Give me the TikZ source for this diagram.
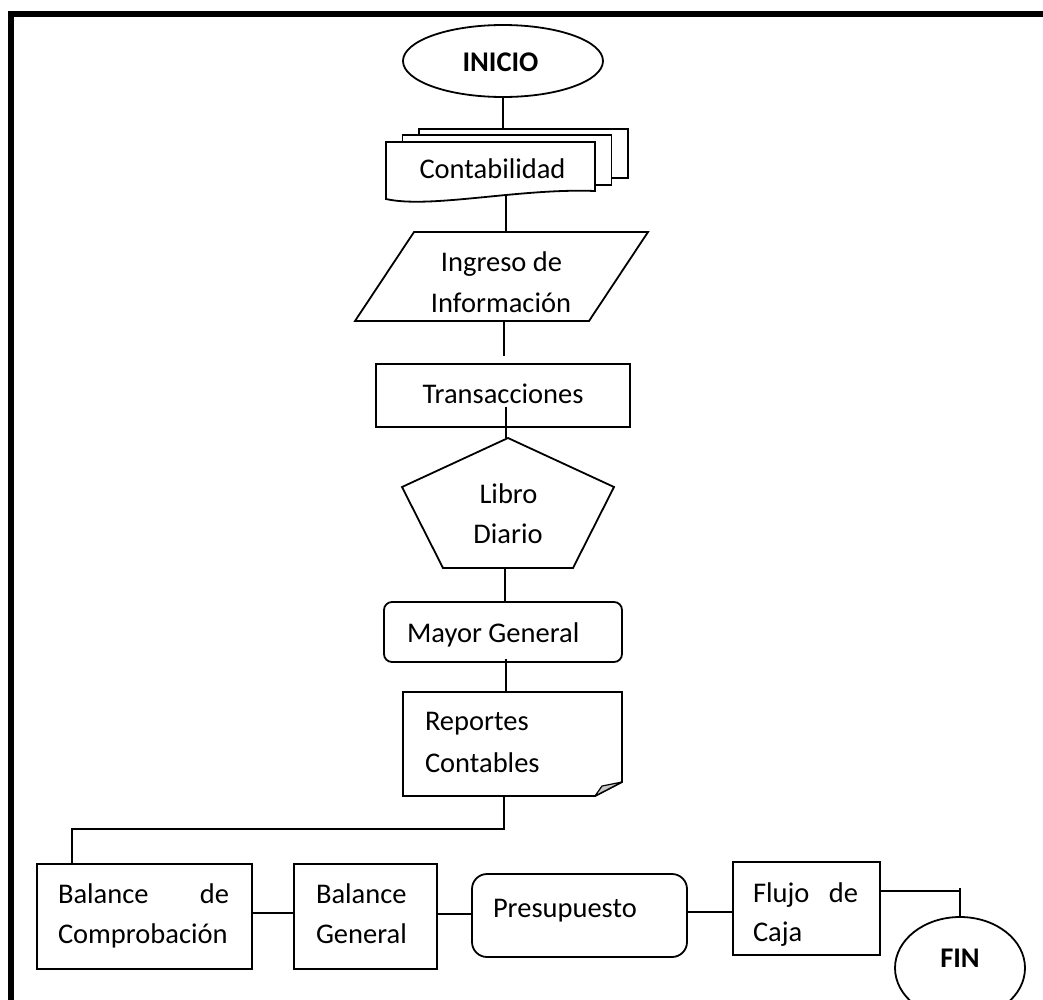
\documentclass[tikz,border=0pt]{standalone}
\usepackage{fontspec}
\setmainfont{Carlito}
\usetikzlibrary{shapes.geometric,calc}
\begin{document}
\begin{tikzpicture}[x=1pt,y=-1pt,
  ln/.style={line width=1.8pt},
  sh/.style={draw, line width=1.8pt, inner sep=0pt, outer sep=0pt},
  ghost/.style={draw=none, inner sep=0pt, outer sep=0pt},
  tx/.style={inner sep=0pt, outer sep=0pt, font=\fontsize{28.5}{40}\selectfont},
  btx/.style={tx, font=\fontsize{28.5}{40}\selectfont\bfseries}]
\useasboundingbox (0,0) rectangle (1043,999);
% frame
\draw[line width=5.5pt] (10.75,1010) -- (10.75,13.75) -- (1050,13.75);

% INICIO
\node[sh, ellipse, minimum width=200, minimum height=72] (inicio) at (503,61) {};
\node[btx, anchor=base] (tinicio) at (500.5,71) {INICIO};

% Contabilidad (multi-document)
\node[ghost, minimum width=209, minimum height=56] (conta) at (490.5,170) {};
\node[ghost, minimum width=209, minimum height=50] (contamid) at (507,160) {};
\node[ghost, minimum width=209, minimum height=49] (contaback) at (523.5,153.5) {};
\draw[ln] (conta.north west) -- (conta.north east) -- ($(conta.north east)+(0,49)$)
  .. controls +(-75,-3) and +(44,10) .. ($(conta.south west)+(0,1)$) -- cycle;
\draw[ln, line join=miter] ($(contamid.north west)+(0,7)$) -- (contamid.north west) -- (contamid.north east)
  -- (contamid.south east) -- ($(contamid.south east)+(-16,0)$);
\draw[ln, line join=miter] ($(contaback.north west)+(0,6)$) -- (contaback.north west) -- (contaback.north east)
  -- (contaback.south east) -- ($(contaback.south east)+(-17,0)$);
\node[tx, anchor=base] (tconta) at (492.5,178) {Contabilidad};
\draw[ln] (inicio.south) -- (inicio.south |- contaback.north);

% Ingreso de Informacion (parallelogram)
\node[ghost, minimum width=293, minimum height=89] (ingreso) at (501.5,276.5) {};
\draw[ln, line join=miter] ($(ingreso.north west)+(59,0)$) -- (ingreso.north east)
  -- ($(ingreso.south east)+(-59,0)$) -- (ingreso.south west) -- cycle;
\node[tx, anchor=base] (tingreso1) at (501.5,271) {Ingreso de};
\node[tx, anchor=base] (tingreso2) at (501,312) {Información};
\draw[ln] ($(conta.south)+(15.5,-2)$) -- ($(ingreso.north)+(4.5,0)$);

% Transacciones
\node[sh, minimum width=254, minimum height=63] (trans) at (503,395.5) {};
\node[tx, anchor=base] (ttrans) at (503,403) {Transacciones};
\draw[ln] ($(ingreso.south)+(2.5,0)$) -- ++(0,35);

% Libro Diario (pentagon)
\node[ghost, minimum width=212, minimum height=130] (libro) at (508,503) {};
\draw[ln, line join=miter] (libro.north) -- ($(libro.north east)+(0,49)$)
  -- ($(libro.south east)+(-41,0)$) -- ($(libro.south west)+(41,0)$)
  -- ($(libro.north west)+(0,49)$) -- cycle;
\node[tx, anchor=base] (tlibro1) at (508.5,503) {Libro};
\node[tx, anchor=base] (tlibro2) at (508,543) {Diario};
\draw[ln] ($(libro.north)+(-2,-31)$) -- ($(libro.north)+(-2,0)$);

% Mayor General
\node[sh, rounded corners=8, minimum width=238, minimum height=60] (mayor) at (503,632) {};
\node[tx, anchor=base west] (tmayor) at (407,642) {Mayor General};
\draw[ln] ($(libro.south)+(-3,0)$) -- ($(mayor.north)+(2,0)$);

% Reportes Contables (document with folded corner)
\node[ghost, minimum width=219, minimum height=104] (reportes) at (512.5,744) {};
\draw[ln, line join=miter] (reportes.north west) -- (reportes.north east)
  -- ($(reportes.south east)+(0,-14)$) -- ($(reportes.south east)+(-27,0)$)
  -- (reportes.south west) -- cycle;
\draw[line width=1.2pt, fill=black!22, line join=round] ($(reportes.south east)+(-27,0)$)
  -- ($(reportes.south east)+(-20,-10)$) -- ($(reportes.south east)+(0,-14)$) -- cycle;
\node[tx, anchor=base west] (trep1) at (425,730) {Reportes};
\node[tx, anchor=base west] (trep2) at (425,772) {Contables};
\draw[ln] ($(mayor.south)+(3,-3)$) -- ($(reportes.north)+(-6.5,0)$);

% bottom row
\node[sh, minimum width=215, minimum height=105] (bcomp) at (144.5,916.5) {};
\node[tx, anchor=base west] (tbc1) at (58,903) {Balance};
\node[tx, anchor=base east] (tbc2) at (229,903) {de};
\node[tx, anchor=base west] (tbc3) at (58,943) {Comprobación};

\node[sh, minimum width=143, minimum height=105] (bgen) at (365.5,916.5) {};
\node[tx, anchor=base west] (tbg1) at (316,903) {Balance};
\node[tx, anchor=base west] (tbg2) at (316,943) {General};

\node[sh, rounded corners=15, minimum width=215, minimum height=83] (presu) at (579.5,915.5) {};
\node[tx, anchor=base west] (tpresu) at (493,917) {Presupuesto};

\node[sh, minimum width=147, minimum height=93] (flujo) at (806.5,908.5) {};
\node[tx, anchor=base west] (tfl1) at (753,902) {Flujo};
\node[tx, anchor=base east] (tfl2) at (858,902) {de};
\node[tx, anchor=base west] (tfl3) at (753,941) {Caja};

\node[sh, ellipse, minimum width=130, minimum height=102] (fin) at (960,968) {};
\node[btx, anchor=base] (tfin) at (960,967) {FIN};

% connectors of the bottom row
\draw[ln] ($(reportes.south west)+(101,0)$) -- ++(0,33) -| ($(bcomp.north west)+(35,0)$);
\draw[ln] ($(bcomp.east)+(0,-3.5)$) -- ($(bgen.west)+(0,-3.5)$);
\draw[ln] ($(bgen.east)+(0,-2.5)$) -- ($(presu.west)+(0,-1.5)$);
\draw[ln] ($(presu.east)+(0,-3.5)$) -- ($(flujo.west)+(0,3.5)$);
\draw[ln] ($(flujo.east)+(0,-17.5)$) -- ($(fin.north)+(0,-26)$);
\draw[ln] (fin.north) -- ++(0,-29);
\end{tikzpicture}
\end{document}
